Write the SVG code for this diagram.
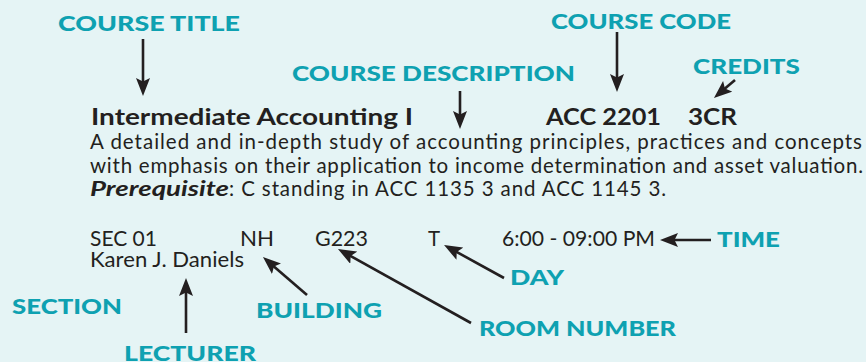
<svg xmlns="http://www.w3.org/2000/svg" width="866" height="362" viewBox="0 0 866 362">
<defs>
<style>
.lbl{font-family:Lato,"Liberation Sans",sans-serif;font-weight:900;font-size:21px;fill:#0ea1b1;}
.txt{font-family:Lato,"Liberation Sans",sans-serif;font-size:20.5px;fill:#231f20;}
.bold{font-weight:700;font-size:22px;}
.bi{font-weight:700;font-style:italic;}
.arr{stroke:#231f20;stroke-width:2.6;fill:none;marker-end:url(#ah);}
</style>
<marker id="ah" markerUnits="userSpaceOnUse" viewBox="0 0 18 14" refX="12" refY="7" markerWidth="18" markerHeight="14" orient="auto">
<path d="M0,0 L18,7 L0,14 L3.5,7 Z" fill="#231f20"/>
</marker>
</defs>
<rect x="0" y="0" width="866" height="362" fill="#e5f4f5"/>

<g id="connectors">
<line class="arr" x1="143" y1="39" x2="143" y2="90"/>
<line class="arr" x1="617" y1="32" x2="617" y2="86"/>
<line class="arr" x1="460" y1="91" x2="460" y2="123"/>
<line class="arr" x1="735" y1="80" x2="718.5" y2="94.1"/>
<line class="arr" x1="711" y1="240" x2="666" y2="240"/>
<line class="arr" x1="504" y1="278" x2="449.3" y2="247.9"/>
<line class="arr" x1="471" y1="323" x2="343.2" y2="251.9"/>
<line class="arr" x1="307" y1="295" x2="267.5" y2="260.9"/>
<line class="arr" x1="186" y1="333" x2="186" y2="284"/>
</g>

<g id="course-title-label"><text class="lbl" x="58" y="31" textLength="182" lengthAdjust="spacingAndGlyphs">COURSE TITLE</text></g>
<g id="course-code-label"><text class="lbl" x="551" y="29" textLength="180" lengthAdjust="spacingAndGlyphs">COURSE CODE</text></g>
<g id="course-description-label"><text class="lbl" x="292" y="81" textLength="283" lengthAdjust="spacingAndGlyphs">COURSE DESCRIPTION</text></g>
<g id="credits-label"><text class="lbl" x="693" y="74" textLength="107" lengthAdjust="spacingAndGlyphs">CREDITS</text></g>
<g id="time-label"><text class="lbl" x="717" y="247" textLength="63" lengthAdjust="spacingAndGlyphs">TIME</text></g>
<g id="day-label"><text class="lbl" x="510" y="285" textLength="54" lengthAdjust="spacingAndGlyphs">DAY</text></g>
<g id="room-number-label"><text class="lbl" x="479" y="336" textLength="197" lengthAdjust="spacingAndGlyphs">ROOM NUMBER</text></g>
<g id="section-label"><text class="lbl" x="12" y="314" textLength="110" lengthAdjust="spacingAndGlyphs">SECTION</text></g>
<g id="building-label"><text class="lbl" x="256" y="318" textLength="126" lengthAdjust="spacingAndGlyphs">BUILDING</text></g>
<g id="lecturer-label"><text class="lbl" x="124" y="361" textLength="132" lengthAdjust="spacingAndGlyphs">LECTURER</text></g>

<g id="course-entry">
<text class="txt bold" x="91" y="125" textLength="322" lengthAdjust="spacingAndGlyphs">Intermediate Accounting I</text>
<text class="txt bold" x="546" y="125" textLength="115" lengthAdjust="spacingAndGlyphs">ACC 2201</text>
<text class="txt bold" x="688" y="125" textLength="49" lengthAdjust="spacingAndGlyphs">3CR</text>
<text class="txt" x="90" y="149" textLength="772" lengthAdjust="spacing">A detailed and in-depth study of accounting principles, practices and concepts</text>
<text class="txt" x="90" y="173" textLength="773" lengthAdjust="spacing">with emphasis on their application to income determination and asset valuation.</text>
<text class="txt" x="90" y="196"><tspan class="bi" textLength="139" lengthAdjust="spacingAndGlyphs">Prerequisite</tspan><tspan x="229" textLength="437" lengthAdjust="spacing">: C standing in ACC 1135 3 and ACC 1145 3.</tspan></text>
<text class="txt" x="90" y="246" textLength="67" lengthAdjust="spacingAndGlyphs">SEC 01</text>
<text class="txt" x="240" y="246" textLength="34" lengthAdjust="spacingAndGlyphs">NH</text>
<text class="txt" x="315" y="246" textLength="53" lengthAdjust="spacingAndGlyphs">G223</text>
<text class="txt" x="428" y="246">T</text>
<text class="txt" x="502" y="246" textLength="153" lengthAdjust="spacingAndGlyphs">6:00 - 09:00 PM</text>
<text class="txt" x="90" y="267" textLength="154" lengthAdjust="spacingAndGlyphs">Karen J. Daniels</text>
</g>
</svg>
